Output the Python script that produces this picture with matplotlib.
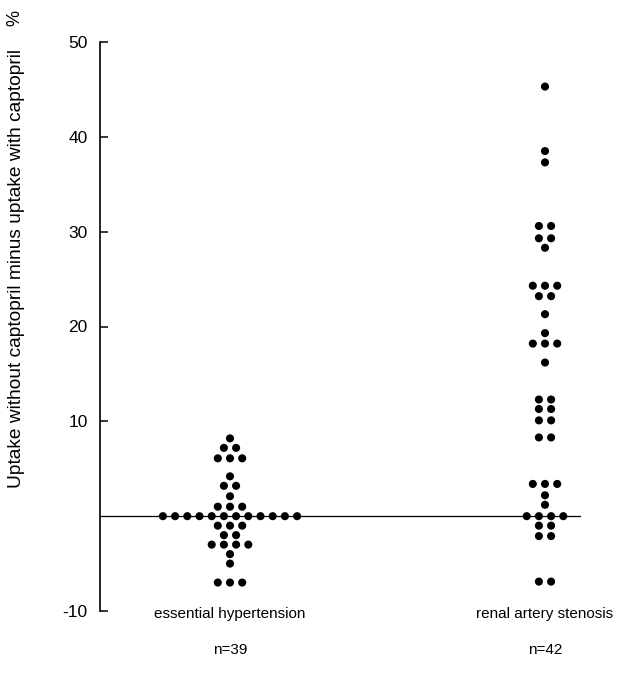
import numpy as np
import matplotlib
matplotlib.use("Agg")
import matplotlib.pyplot as plt
from collections import Counter

plt.rcParams['font.family'] = ['Liberation Sans', 'DejaVu Sans']
plt.rcParams['axes.unicode_minus'] = False

# values (percent), one entry per patient
essential = ([8.2] + [7.2] * 2 + [6.1] * 3 + [4.2] + [3.2] * 2 + [2.1] + [1.0] * 3
             + [0.0] * 12 + [-1.0] * 3 + [-2.0] * 2 + [-3.0] * 4 + [-4.0] + [-5.0]
             + [-7.0] * 3)
renal = ([45.3, 38.5, 37.3] + [30.6] * 2 + [29.3] * 2 + [28.3] + [24.3] * 3 + [23.2] * 2
         + [21.3, 19.3] + [18.2] * 3 + [16.2] + [12.3] * 2 + [11.3] * 2 + [10.1] * 2
         + [8.3] * 2 + [3.4] * 3 + [2.2, 1.2] + [0.0] * 4 + [-1.0] * 2 + [-2.1] * 2
         + [-6.9] * 2)

groups = ["essential hypertension", "renal artery stenosis"]
counts = ["n=39", "n=42"]
yticks = [-10, 10, 20, 30, 40, 50]

fig = plt.figure(figsize=(6.31, 6.89), dpi=100)
ax = fig.add_axes([100 / 631, 78 / 689, 481 / 631, 569 / 689])

x_lo, x_hi = 1 - 130 / 315, 1 + 351 / 315
step = 12.2 / 315   # horizontal gap between neighbouring dots


def swarm(values, centre):
    xs, ys = [], []
    for v, c in Counter(values).items():
        off = (np.arange(c) - (c - 1) / 2) * step
        xs.extend(centre + off)
        ys.extend([v] * c)
    return xs, ys


ax.axhline(0, color='black', lw=0.9, zorder=1)
for i, vals in enumerate([essential, renal]):
    xs, ys = swarm(vals, i + 1)
    ax.scatter(xs, ys, s=34, color='black', edgecolors='none', zorder=3)

ax.set_xlim(x_lo, x_hi)
ax.set_ylim(-10, 50)
ax.set_yticks(yticks)
ax.set_xticks([])
for side in ['top', 'right', 'bottom']:
    ax.spines[side].set_visible(False)
ax.spines['left'].set_linewidth(1.2)
ax.tick_params(axis='y', direction='in', length=6, width=1.1, pad=9, labelsize=12.5)

for i, (g, n) in enumerate(zip(groups, counts)):
    ax.text(i + 1, -10.3, g, ha='center', va='center', fontsize=11)
    ax.text(i + 1, -14.1, n, ha='center', va='center', fontsize=11)

fig.text(17 / 631, 1 - 268 / 689, "Uptake without captopril minus uptake with captopril",
         rotation=90, ha='center', va='center', fontsize=13.8)
fig.text(15 / 631, 1 - 18 / 689, "%", rotation=90, ha='center', va='center', fontsize=13)

fig.savefig("out.png", dpi=100)
